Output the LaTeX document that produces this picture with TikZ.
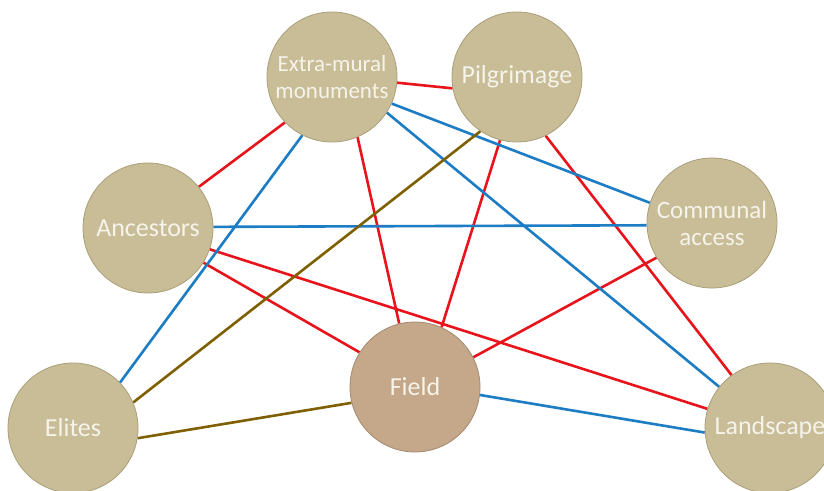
\documentclass[tikz,border=0pt]{standalone}
\usepackage{fontspec}
\setmainfont{Carlito}
\usetikzlibrary{backgrounds}
\definecolor{tanfill}{HTML}{C8BD97}
\definecolor{tanedge}{HTML}{A99E78}
\definecolor{fieldfill}{HTML}{C5A78A}
\definecolor{fieldedge}{HTML}{A38A70}
\definecolor{linkred}{HTML}{E8141B}
\definecolor{linkblue}{HTML}{1C7CC4}
\definecolor{linkolive}{HTML}{7F6000}
\definecolor{labeltext}{HTML}{F6F3EA}
\tikzset{
  topic/.style={circle, fill=tanfill, draw=tanedge, line width=0.8bp,
    minimum size=130bp, inner sep=0pt, align=center, text=labeltext,
    font=\fontsize{26bp}{28bp}\selectfont},
  hub/.style={topic, fill=fieldfill, draw=fieldedge},
  redlink/.style={draw=linkred, line width=2.6bp},
  bluelink/.style={draw=linkblue, line width=2.6bp},
  olivelink/.style={draw=linkolive, line width=2.6bp}
}
\begin{document}
\begin{tikzpicture}[x=1bp, y=-1bp]
\useasboundingbox (0,0) rectangle (824,491);

% topics
\node[topic, font=\fontsize{23bp}{27bp}\selectfont] (E) at (332,77) {Extra-mural\\monuments};
\node[topic] (P) at (517,77) {Pilgrimage};
\node[topic] (A) at (148,228) {Ancestors};
\node[topic, font=\fontsize{25bp}{27bp}\selectfont] (C) at (712,223) {Communal\\access};
\node[hub] (F) at (415,387) {Field};
\node[topic] (L) at (73,428) {Elites};
\node[topic] (S) at (770,428) {Landscape};

% white page and links, kept behind the circles
\begin{scope}[on background layer]
  \fill[white] (0,0) rectangle (824,491);
  % red links
  \draw[redlink] (E.-5) -- (P.190);
  \draw[redlink] (E.224) -- (A.39);
  \draw[redlink] (E.293) -- (F.104);
  \draw[redlink] (P.255) -- (F.66);
  \draw[redlink] (P.296) -- (S.126);
  \draw[redlink] (A.341) -- (S.163);
  \draw[redlink] (A.328) -- (F.148);
  \draw[redlink] (C.212) -- (F.27);
  % blue links
  \draw[bluelink] (E.243) -- (L.44);
  \draw[bluelink] (E.327) -- (S.141);
  \draw[bluelink] (E.336) -- (C.162);
  \draw[bluelink] (A.1) -- (C.182);
  \draw[bluelink] (F.353) -- (S.184);
  % olive links
  \draw[olivelink] (P.236) -- (L.23);
  \draw[olivelink] (F.194) -- (L.351);
\end{scope}
\end{tikzpicture}
\end{document}
